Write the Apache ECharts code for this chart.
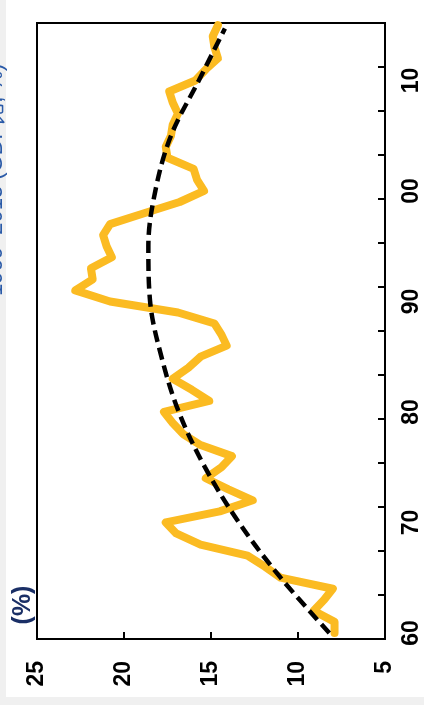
<!DOCTYPE html>
<html>
<head>
<meta charset="utf-8">
<script src="https://cdn.jsdelivr.net/npm/echarts@6/dist/echarts.min.js"></script>
<style>
html,body{margin:0;padding:0;background:#f0f0f0;}
#c{position:absolute;left:0;top:0;width:424px;height:705px;}
</style>
</head>
<body>
<div id="c"></div>
<script>
// ---- data ----
const years = [1960,1961,1962,1963,1964,1965,1966,1967,1968,1969,
               1970,1971,1972,1973,1974,1975,1976,1977,1978,1979,
               1980,1981,1982,1983,1984,1985,1986,1987,1988,1989,
               1990,1991,1992,1993,1994,1995,1996,1997,1998,1999,
               2000,2001,2002,2003,2004,2005,2006,2007,2008,2009,
               2010,2011,2012,2013,2014,2015];
const rateValues = [7.9,7.9,9.1,8.5,8.0,11.0,11.9,12.9,15.6,17.0,
                    17.6,14.5,12.6,14.0,15.3,14.4,13.8,15.6,16.6,17.2,
                    17.7,15.1,16.1,17.2,16.3,15.6,14.1,14.4,14.8,16.9,
                    20.8,22.8,21.8,21.9,20.7,21.0,21.2,20.8,18.8,16.8,
                    15.4,15.8,16.0,17.5,17.6,17.3,17.2,16.9,17.2,17.4,
                    15.9,15.3,14.6,14.8,14.9,14.6];
const trendYears  = [1960,1965,1970,1975,1980,1985,1990,1995,2000,2005,2010,2014.7];
const trendValues = [8.2,11.0,13.4,15.35,16.85,17.85,18.5,18.6,18.2,17.3,15.7,14.2];
const yearTicks   = [1960,1970,1980,1990,2000,2010];
const valueTicks  = [5,10,15,20,25];
const unitLabel   = '(%)';
const titleText   = '1960–2015 (GDP比, %)';

const rateData  = years.map((y,i)=>[rateValues[i], y]);
const trendData = trendYears.map((y,i)=>[trendValues[i], y]);

const chart = echarts.init(document.getElementById('c'), null, {renderer:'canvas'});
const FONT = '"Liberation Sans", Arial, sans-serif';

chart.setOption({
  animation:false,
  backgroundColor:'transparent',
  graphic:[
    {type:'rect', z:-10, shape:{x:6,y:0,width:418,height:697}, style:{fill:'#ffffff'}},
    {type:'text', x:6.5, y:296, rotation:Math.PI/2,
     style:{text:titleText, font:'22px '+FONT, fill:'#2a5aa8', textAlign:'left', textVerticalAlign:'bottom'}},
    {type:'text', x:23, y:605, rotation:Math.PI/2,
     style:{text:unitLabel, font:'bold 25px '+FONT, fill:'#1a2f66', textAlign:'center', textVerticalAlign:'middle'}}
  ],
  grid:{left:37, right:39, top:23, bottom:66, show:true, borderColor:'#000', borderWidth:2, backgroundColor:'#fff'},
  xAxis:{
    type:'value', min:5, max:25, interval:5, inverse:true, position:'bottom',
    axisLine:{show:true, lineStyle:{color:'#000', width:2}},
    axisTick:{show:true, inside:true, length:7, lineStyle:{color:'#000', width:2}},
    axisLabel:{show:true, rotate:90, margin:22, fontSize:23, fontWeight:'bold', color:'#000', fontFamily:FONT,
               customValues:valueTicks},
    splitLine:{show:false}
  },
  yAxis:[
    {
      type:'value', min:1959.45, max:2015.2, position:'right',
      axisLine:{show:true, lineStyle:{color:'#000', width:2}},
      axisTick:{show:false},
      axisLabel:{show:true, rotate:90, margin:15, fontSize:23, fontWeight:'bold', color:'#000', fontFamily:FONT,
                 customValues:yearTicks, formatter:v=>String(Math.round(v)).slice(2)},
      splitLine:{show:false}
    },
    {
      type:'value', min:0, max:14, interval:1, position:'right',
      axisLine:{show:false},
      axisTick:{show:true, inside:true, length:7, lineStyle:{color:'#000', width:2}},
      axisLabel:{show:false},
      splitLine:{show:false}
    }
  ],
  series:[
    {
      type:'line', data:rateData, yAxisIndex:0, symbol:'none', z:2,
      lineStyle:{color:'#FBBB22', width:8, join:'round', cap:'round'}
    },
    {
      type:'line', data:trendData, yAxisIndex:0, symbol:'none', smooth:0.35, z:3,
      lineStyle:{color:'#000', width:4.5, type:[12,6]}
    }
  ]
});
</script>
</body>
</html>
